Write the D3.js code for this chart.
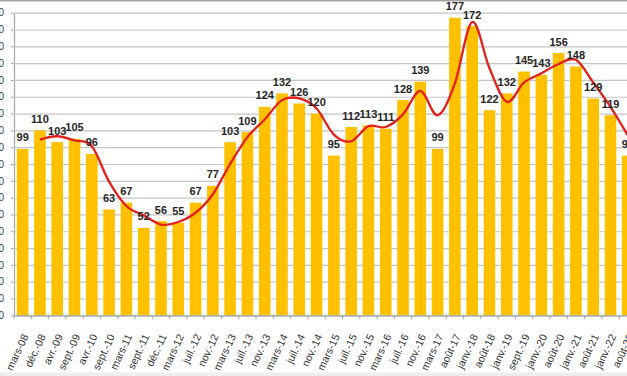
<!DOCTYPE html>
<html>
<head>
<meta charset="utf-8">
<script src="https://cdn.jsdelivr.net/npm/d3@7"></script>
<style>
  html, body { margin: 0; padding: 0; background: #fff; overflow: hidden; }
  svg { display: block; }
</style>
</head>
<body>
<div id="chart"></div>
<script>
// periods (x axis)
const categories = [
  "mars-08", "déc.-08", "avr.-09", "sept.-09", "avr.-10", "sept.-10",
  "mars-11", "sept.-11", "déc.-11", "mars-12", "juil.-12", "nov.-12",
  "mars-13", "juil.-13", "nov.-13", "mars-14", "juil.-14", "nov.-14",
  "mars-15", "juil.-15", "nov.-15", "mars-16", "juil.-16", "nov.-16",
  "mars-17", "août-17", "janv.-18", "août-18", "janv.-19", "sept.-19",
  "janv.-20", "août-20", "janv.-21", "août-21", "janv.-22", "août-22"
];

// bar values
const values = [
  99, 110, 103, 105, 96, 63, 67, 52, 56, 55, 67, 77,
  103, 109, 124, 132, 126, 120, 95, 112, 113, 111, 128, 139,
  99, 177, 172, 122, 132, 145, 143, 156, 148, 129, 119, 95
];

// red smoothed trend line (none for the first period)
const trend = [
  null, 104.5, 106.5, 104, 100.5, 79.5, 65, 59.5, 54, 55.5, 61, 72,
  90, 106, 116.5, 128, 129, 123, 107.5, 103.5, 112.5, 112, 119.5, 133.5,
  119, 138, 174.5, 147, 127, 138.5, 144, 149.5, 152, 138.5, 124, 107
];

const yTicks = d3.range(0, 181, 10);

main();

function main() {
  const width = 627;
  const height = 376;
  const margin = { top: 12.7, left: 14, bottom: 315.3 };
  const step = 17.29;

  const svg = d3
    .select("#chart")
    .append("svg")
    .attr("width", width)
    .attr("height", height);

  svg.append("rect").attr("width", width).attr("height", height).attr("fill", "#fff");

  // frame bits cut by the crop
  svg.append("line")
    .attr("x1", 0).attr("x2", width)
    .attr("y1", 0.8).attr("y2", 0.8)
    .attr("stroke", "#a3a3a3").attr("stroke-width", 1.6);
  svg.append("rect")
    .attr("x", 0).attr("y", 372.5)
    .attr("width", width).attr("height", 4)
    .attr("fill", "#eeeeee");

  // scales
  const scaleX = d3
    .scaleBand()
    .domain(categories)
    .range([margin.left, margin.left + step * categories.length])
    .paddingInner(0.33)
    .paddingOuter(0.165);
  const scaleY = d3
    .scaleLinear()
    .domain([0, 180])
    .range([margin.bottom, margin.top]);

  const center = (i) => scaleX(categories[i]) + scaleX.bandwidth() / 2;

  // y axis + grid
  const groupAxisY = svg
    .append("g")
    .attr("class", "groupAxisY")
    .attr("transform", `translate(${margin.left}, 0)`);
  groupAxisY
    .call(d3.axisLeft(scaleY).tickValues(yTicks).tickSize(3).tickPadding(7).tickSizeOuter(0))
    .call((g) => {
      g.select(".domain").attr("stroke", "#a6a6a6").attr("stroke-width", 1.2);
      g.selectAll(".tick line").attr("stroke", "#a6a6a6");
      g.selectAll(".tick line")
        .clone()
        .attr("x1", 0)
        .attr("x2", width)
        .attr("stroke", "#c4c4c4")
        .attr("stroke-width", 1.2);
      g.selectAll("text")
        .attr("fill", "#404040")
        .attr("font-family", "Liberation Sans, Arial, sans-serif")
        .attr("font-size", "10px");
    });

  // bars
  svg
    .append("g")
    .selectAll("rect")
    .data(values)
    .join("rect")
    .attr("x", (d, i) => scaleX(categories[i]))
    .attr("width", scaleX.bandwidth())
    .attr("y", (d) => scaleY(d))
    .attr("height", (d) => scaleY(0) - scaleY(d))
    .attr("fill", "#ffc000");

  // x axis
  const groupAxisX = svg
    .append("g")
    .attr("class", "groupAxisX")
    .attr("transform", `translate(0, ${margin.bottom})`);
  groupAxisX
    .call(d3.axisBottom(scaleX).tickSize(0).tickSizeOuter(0))
    .call((g) => {
      g.select(".domain").attr("stroke", "#a6a6a6").attr("stroke-width", 1.2);
      g.selectAll("text")
        .attr("fill", "#333")
        .attr("font-family", "Liberation Sans, Arial, sans-serif")
        .attr("font-size", "10.5px")
        .attr("text-anchor", "end")
        .attr("dy", null)
        .attr("y", null)
        .attr("transform", "translate(6, 21) rotate(-65)");
    });
  // boundary tick marks
  groupAxisX
    .selectAll(".sep")
    .data(categories)
    .join("line")
    .attr("class", "sep")
    .attr("x1", (d) => scaleX(d) - (scaleX.step() * 0.33) / 2)
    .attr("x2", (d) => scaleX(d) - (scaleX.step() * 0.33) / 2)
    .attr("y1", 0)
    .attr("y2", 4)
    .attr("stroke", "#a6a6a6");

  // trend line
  const line = d3
    .line()
    .defined((d) => d != null)
    .x((d, i) => center(i))
    .y((d) => scaleY(d))
    .curve(d3.curveCatmullRom.alpha(0));
  svg
    .append("path")
    .datum(trend)
    .attr("fill", "none")
    .attr("stroke", "#e3211c")
    .attr("stroke-width", 2.3)
    .attr("stroke-linejoin", "round")
    .attr("d", line);

  // data labels
  svg
    .append("g")
    .selectAll("text")
    .data(values)
    .join("text")
    .attr("x", (d, i) => center(i))
    .attr("y", (d) => scaleY(d) - 7.5)
    .attr("text-anchor", "middle")
    .attr("font-family", "Liberation Sans, Arial, sans-serif")
    .attr("font-weight", "bold")
    .attr("font-size", "11px")
    .attr("fill", "#262626")
    .text((d) => d);
}
</script>
</body>
</html>
